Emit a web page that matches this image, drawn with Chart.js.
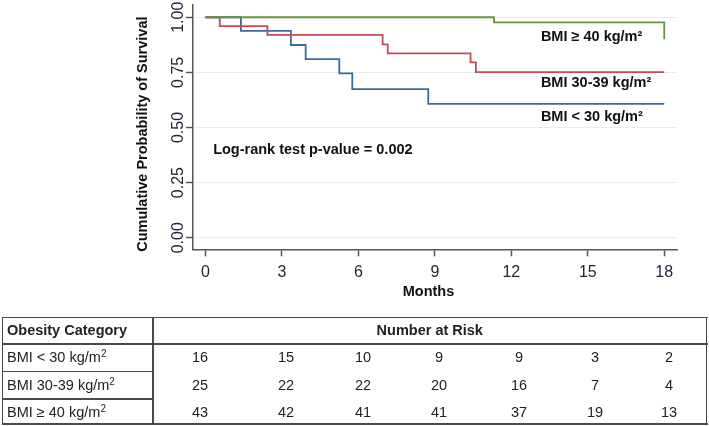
<!DOCTYPE html>
<html>
<head>
<meta charset="utf-8">
<script src="https://cdn.jsdelivr.net/npm/chart.js@4.4.0/dist/chart.umd.min.js"></script>
<style>
  html, body { margin: 0; padding: 0; background: #fff; }
  body { width: 709px; height: 426px; position: relative; overflow: hidden;
         font-family: "Liberation Sans", Arial, sans-serif; color: #222; }
  #chartBox { position: absolute; left: 0; top: 0; width: 709px; height: 305px; }
  #risk { position: absolute; left: 0; top: 0; width: 709px; height: 426px; pointer-events: none; }
  .ln { position: absolute; background: #4a4a4a; }
  .cell { position: absolute; font-size: 14.5px; line-height: 16px; white-space: nowrap; transform: translateY(-50%); }
  .cell sup { font-size: 10px; line-height: 0; vertical-align: 5px; }
  .num { transform: translate(-50%, -50%); }
  .bold { font-weight: bold; }
</style>
</head>
<body>
<div id="chartBox"><canvas id="km-chart" width="709" height="305"></canvas></div>
<div id="risk"></div>
<script>
// survival curves (time in months, survival probability)
var lowTime = [0, 1.39, 3.35, 3.93, 5.25, 5.76, 8.74, 18];
var lowSurv = [1, 0.938, 0.874, 0.81, 0.745, 0.674, 0.607, 0.607];
var midTime = [0, 0.56, 2.43, 6.95, 7.15, 10.4, 10.61, 18];
var midSurv = [1, 0.96, 0.92, 0.877, 0.836, 0.795, 0.751, 0.751];
var highTime = [0, 11.32, 18];
var highSurv = [1, 0.977, 0.9];

var groups = ["BMI < 30 kg/m²", "BMI 30-39 kg/m²", "BMI ≥ 40 kg/m²"];
var months = [0, 3, 6, 9, 12, 15, 18];
var yTicks = [0, 0.25, 0.5, 0.75, 1];
var pValueText = "Log-rank test p-value = 0.002";

// number at risk
var atRiskLow = [16, 15, 10, 9, 9, 3, 2];
var atRiskMid = [25, 22, 22, 20, 16, 7, 4];
var atRiskHigh = [43, 42, 41, 41, 37, 19, 13];

var colors = { low: "#3d6a9c", mid: "#bf4c57", high: "#64953f" };
var boldFont = 'bold 14.5px "Liberation Sans", Arial, sans-serif';

function km(times, surv) {
  return times.map(function(t, i) { return { x: t, y: surv[i] }; });
}

var kmText = {
  id: "kmText",
  afterDraw: function(chart) {
    var ctx = chart.ctx, xs = chart.scales.x, ys = chart.scales.y, area = chart.chartArea;
    ctx.save();
    ctx.fillStyle = "#1e2335";
    ctx.font = '16px "Liberation Sans", Arial, sans-serif';
    ctx.textAlign = "center";
    ctx.textBaseline = "alphabetic";
    xs.ticks.forEach(function(t) {
      ctx.fillText(String(t.value), xs.getPixelForValue(t.value), area.bottom + 28);
    });
    ys.ticks.forEach(function(t) {
      ctx.save();
      ctx.translate(area.left - 10.5, ys.getPixelForValue(t.value));
      ctx.rotate(-Math.PI / 2);
      ctx.fillText(t.value.toFixed(2), 0, 0);
      ctx.restore();
    });

    ctx.fillStyle = "#111";
    ctx.font = boldFont;
    // axis titles
    ctx.save();
    ctx.translate(area.left - 50, (area.top + area.bottom) / 2 + 7);
    ctx.rotate(-Math.PI / 2);
    ctx.textBaseline = "middle";
    ctx.fillText("Cumulative Probability of Survival", 0, 0);
    ctx.restore();
    ctx.fillText("Months", (area.left + area.right) / 2 - 6.5, area.bottom + 46.5);

    // curve labels
    ctx.textAlign = "left";
    var labelY = [0.53, 0.6845, 0.894];
    groups.forEach(function(g, i) {
      ctx.fillText(g, xs.getPixelForValue(13.16), ys.getPixelForValue(labelY[i]));
    });
    ctx.fillText(pValueText, xs.getPixelForValue(0.3), ys.getPixelForValue(0.379));
    ctx.restore();
  }
};

var config = {
  type: "line",
  data: {
    datasets: [
      { label: groups[2], data: km(highTime, highSurv), borderColor: colors.high },
      { label: groups[1], data: km(midTime, midSurv), borderColor: colors.mid },
      { label: groups[0], data: km(lowTime, lowSurv), borderColor: colors.low }
    ]
  },
  options: {
    responsive: false,
    animation: false,
    devicePixelRatio: 1,
    layout: { padding: { left: 186, right: 32, top: 5, bottom: 48.7 } },
    elements: {
      line: { stepped: true, borderWidth: 1.8, fill: false, tension: 0 },
      point: { radius: 0, hoverRadius: 0 }
    },
    plugins: { legend: { display: false }, tooltip: { enabled: false } },
    scales: {
      x: {
        type: "linear",
        min: -0.49,
        max: 18.5,
        afterBuildTicks: function(scale) {
          scale.ticks = months.map(function(v) { return { value: v }; });
        },
        ticks: { display: false },
        grid: { drawOnChartArea: false, drawTicks: true, tickLength: 7, tickColor: "#555", tickWidth: 1.5 },
        border: { color: "#555", width: 1.5 }
      },
      y: {
        type: "linear",
        min: -0.0525,
        max: 1.0555,
        afterBuildTicks: function(scale) {
          scale.ticks = yTicks.map(function(v) { return { value: v }; });
        },
        ticks: { display: false },
        grid: { color: "#e2eef1", lineWidth: 1, tickLength: 7, tickColor: "#555", tickWidth: 1.5 },
        border: { color: "#555", width: 1.5 }
      }
    }
  },
  plugins: [kmText]
};

window.onload = function() {
  var ctx = document.getElementById("km-chart").getContext("2d");
  window.myKM = new Chart(ctx, config);

  // number-at-risk table
  var risk = document.getElementById("risk");
  var tTop = 316.5, tBottom = 425, tLeft = 1.5, tRight = 707.5, divX = 152;
  var rowLines = [343, 370.5, 398];
  var rowMid = [330, 357, 384.5, 411.7];
  var numX = [200, 286, 363, 439, 519, 595, 669];

  function line(x, y, w, h) {
    var d = document.createElement("div");
    d.className = "ln";
    d.style.left = x + "px"; d.style.top = y + "px";
    d.style.width = w + "px"; d.style.height = h + "px";
    risk.appendChild(d);
  }
  function text(str, x, y, cls) {
    var d = document.createElement("div");
    d.className = "cell " + (cls || "");
    d.textContent = str;
    d.style.left = x + "px"; d.style.top = y + "px";
    risk.appendChild(d);
    return d;
  }

  line(tLeft, tTop, tRight - tLeft, 1.8);
  line(tLeft, tBottom - 1.8, tRight - tLeft, 1.8);
  line(tLeft, tTop, 1.8, tBottom - tTop);
  line(tRight - 1.8, tTop, 1.8, tBottom - tTop);
  line(divX, tTop, 1.5, tBottom - tTop);
  rowLines.forEach(function(y, i) {
    line(tLeft, y, (i === 0 ? tRight - tLeft : divX - tLeft), 1.5);
  });

  text("Obesity Category", 7, rowMid[0], "bold");
  text("Number at Risk", (divX + tRight) / 2, rowMid[0], "bold num");
  [atRiskLow, atRiskMid, atRiskHigh].forEach(function(vals, r) {
    var cell = text("", 7, rowMid[r + 1]);
    var parts = groups[r].split("²");
    cell.appendChild(document.createTextNode(parts[0]));
    var sup = document.createElement("sup");
    sup.textContent = "2";
    cell.appendChild(sup);
    vals.forEach(function(v, c) {
      text(String(v), numX[c], rowMid[r + 1], "num");
    });
  });
};
</script>
</body>
</html>
